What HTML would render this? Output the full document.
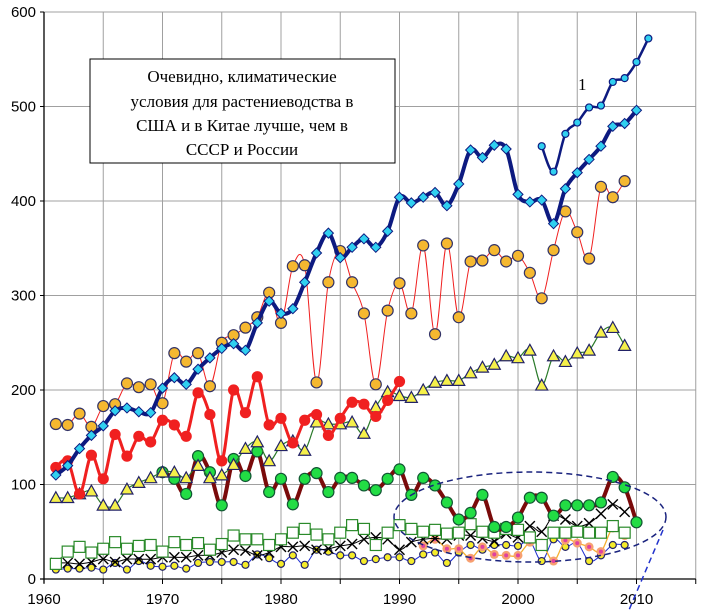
<!DOCTYPE html>
<html><head><meta charset="utf-8">
<style>
html,body{margin:0;padding:0;background:#fff;}
svg{display:block;font-family:"Liberation Sans",sans-serif;}
</style></head>
<body>
<svg id="chart" width="703" height="610" viewBox="0 0 703 610" xmlns="http://www.w3.org/2000/svg">
<g id="grid"></g>
<g id="series"></g>
<g id="axes"></g>
<ellipse cx="530" cy="517" rx="136" ry="45" fill="none" stroke="#1a237e" stroke-width="1.5" stroke-dasharray="6,4"/>
<line x1="663" y1="530" x2="629" y2="610" stroke="#2233cc" stroke-width="1.5" stroke-dasharray="6,4"/>
<g>
<rect x="90" y="59" width="305" height="104" fill="#fff" stroke="#000" stroke-width="1"/>
<text x="242" y="82" text-anchor="middle" font-family="Liberation Serif, serif" font-size="17">Очевидно, климатические</text>
<text x="242" y="107" text-anchor="middle" font-family="Liberation Serif, serif" font-size="17">условия для растениеводства в</text>
<text x="242" y="131" text-anchor="middle" font-family="Liberation Serif, serif" font-size="17">США и в Китае лучше, чем в</text>
<text x="242" y="155" text-anchor="middle" font-family="Liberation Serif, serif" font-size="17">СССР и России</text>
</g>
<text x="578" y="90" font-family="Liberation Serif, serif" font-size="17">1</text>
</svg>
<script>
const xTicks=[1960,1970,1980,1990,2000,2010];
const yTicks=[0,100,200,300,400,500,600];
const usaYears=[1961,1962,1963,1964,1965,1966,1967,1968,1969,1970,1971,1972,1973,1974,1975,1976,1977,1978,1979,1980,1981,1982,1983,1984,1985,1986,1987,1988,1989,1990,1991,1992,1993,1994,1995,1996,1997,1998,1999,2000,2001,2002,2003,2004,2005,2006,2007,2008,2009,2010];
const usaValues=[110,120,138,152,162,178,181,177,176,202,213,206,222,234,244,249,242,271,294,281,286,314,345,366,340,351,360,351,368,404,398,404,409,395,418,454,446,459,455,407,399,401,376,413,430,444,458,479,482,496];
const s1Years=[2002,2003,2004,2005,2006,2007,2008,2009,2010,2011];
const s1Values=[458,431,471,483,499,501,526,530,547,572];
const chinaYears=[1961,1962,1963,1964,1965,1966,1967,1968,1969,1970,1971,1972,1973,1974,1975,1976,1977,1978,1979,1980,1981,1982,1983,1984,1985,1986,1987,1988,1989,1990,1991,1992,1993,1994,1995,1996,1997,1998,1999,2000,2001,2002,2003,2004,2005,2006,2007,2008,2009];
const chinaValues=[164,163,175,161,183,185,207,203,206,186,239,230,239,204,250,258,266,277,303,271,331,332,208,314,347,314,281,206,284,313,281,353,259,355,277,336,337,348,336,342,324,297,348,389,367,339,415,404,421];
const ussrYears=[1961,1962,1963,1964,1965,1966,1967,1968,1969,1970,1971,1972,1973,1974,1975,1976,1977,1978,1979,1980,1981,1982,1983,1984,1985,1986,1987,1988,1989,1990];
const ussrValues=[118,125,90,131,106,153,130,151,145,168,163,151,197,174,125,200,176,214,163,170,144,168,174,152,170,187,185,172,189,209];
const triYears=[1961,1962,1963,1964,1965,1966,1967,1968,1969,1970,1971,1972,1973,1974,1975,1976,1977,1978,1979,1980,1981,1982,1983,1984,1985,1986,1987,1988,1989,1990,1991,1992,1993,1994,1995,1996,1997,1998,1999,2000,2001,2002,2003,2004,2005,2006,2007,2008,2009];
const triValues=[86,86,90,93,78,78,95,102,107,113,113,107,120,107,110,121,138,145,125,141,146,136,166,164,164,166,154,182,198,194,192,200,208,210,210,218,224,227,236,234,242,205,236,230,239,242,261,266,247];
const rusYears=[1970,1971,1972,1973,1974,1975,1976,1977,1978,1979,1980,1981,1982,1983,1984,1985,1986,1987,1988,1989,1990,1991,1992,1993,1994,1995,1996,1997,1998,1999,2000,2001,2002,2003,2004,2005,2006,2007,2008,2009,2010];
const rusValues=[113,106,90,130,113,78,127,109,135,92,106,79,106,112,92,107,107,99,94,106,116,89,107,99,81,63,70,89,55,55,65,86,86,67,78,78,78,81,108,97,60];
const sqYears=triYears;
const sqValues=[16,29,34,28,32,39,32,35,36,29,39,36,38,31,37,46,42,42,36,42,49,53,47,42,49,57,53,36,49,57,53,50,52,48,49,58,50,49,53,52,44,36,49,49,50,49,49,56,49];
const xYears=triYears;
const xValues=[17,17,16,18,21,18,21,21,21,23,23,23,25,25,28,31,30,25,28,34,34,35,31,32,35,37,42,44,42,31,39,42,43,42,46,46,43,40,48,44,56,50,67,63,56,59,69,79,71];
const ycYears=triYears;
const ycValues=[10,11,11,12,10,17,10,19,14,13,14,11,17,18,18,18,15,26,22,16,25,15,31,29,25,25,19,21,23,23,19,26,28,17,28,36,31,36,36,35,40,19,42,34,38,19,25,36,36];
const pkYears=[1992,1993,1994,1995,1996,1997,1998,1999,2000,2001,2002,2003,2004,2005,2006,2007,2008,2009];
const pkValues=[35,42,32,32,22,34,26,25,25,39,38,19,41,38,34,29,54,46];

const NS="http://www.w3.org/2000/svg";
const X0=44, PX=11.85, Y0=579, PY=0.945;
function xs(yr){return X0+(yr-1960)*PX;}
function ys(v){return Y0-v*PY;}
function mk(tag,attrs,parent){const e=document.createElementNS(NS,tag);for(const k in attrs)e.setAttribute(k,attrs[k]);parent.appendChild(e);return e;}
const grid=document.getElementById('grid'), axes=document.getElementById('axes'), ser=document.getElementById('series');
for(let yr=1965;yr<=2015;yr+=5){const l=mk('line',{x1:xs(yr),x2:xs(yr),y1:ys(600),y2:Y0,stroke:'#a0a0a0','stroke-width':1},grid);

}
for(let v=100;v<=600;v+=100){const l=mk('line',{x1:X0,x2:xs(2015),y1:ys(v),y2:ys(v),stroke:'#a0a0a0','stroke-width':1},grid);

}
const ax=mk('line',{x1:X0,x2:X0,y1:ys(600),y2:Y0+4,stroke:'#000','stroke-width':1.3},axes);


const bx=mk('line',{x1:X0-4,x2:xs(2015),y1:Y0,y2:Y0,stroke:'#000','stroke-width':1.3},axes);


yTicks.forEach(v=>{const t=mk('text',{x:X0-8,y:ys(v)+5,'text-anchor':'end','font-size':15},axes);t.textContent=v;


mk('line',{x1:X0-4,x2:X0,y1:ys(v),y2:ys(v),stroke:'#000'},axes);});
for(let yr=1960;yr<=2015;yr+=5){mk('line',{x1:xs(yr),x2:xs(yr),y1:Y0,y2:Y0+5,stroke:'#000'},axes);}
xTicks.forEach(yr=>{const t=mk('text',{x:xs(yr),y:604,'text-anchor':'middle','font-size':15},axes);t.textContent=yr;

});

function smoothPath(pts){let d='M'+pts[0][0]+','+pts[0][1];
for(let i=0;i<pts.length-1;i++){const p0=pts[i-1]||pts[i],p1=pts[i],p2=pts[i+1],p3=pts[i+2]||p2;
const c1=[p1[0]+(p2[0]-p0[0])/6,p1[1]+(p2[1]-p0[1])/6],c2=[p2[0]-(p3[0]-p1[0])/6,p2[1]-(p3[1]-p1[1])/6];
d+=' C'+c1[0]+','+c1[1]+' '+c2[0]+','+c2[1]+' '+p2[0]+','+p2[1];}return d;}
function marker(g,type,x,y,fill,stroke,r){
if(type==='circle')return mk('circle',{cx:x,cy:y,r:r,fill:fill,stroke:stroke,'stroke-width':1.2},g);
if(type==='diamond')return mk('polygon',{points:`${x},${y-r} ${x+r},${y} ${x},${y+r} ${x-r},${y}`,fill:fill,stroke:stroke,'stroke-width':1},g);
if(type==='triangle')return mk('polygon',{points:`${x},${y-r} ${x+r},${y+r*0.8} ${x-r},${y+r*0.8}`,fill:fill,stroke:stroke,'stroke-width':1.2},g);
if(type==='square')return mk('rect',{x:x-r,y:y-r,width:2*r,height:2*r,fill:fill,stroke:stroke,'stroke-width':1.2},g);
if(type==='x'){const p=mk('path',{d:`M${x-r},${y-r}L${x+r},${y+r}M${x+r},${y-r}L${x-r},${y+r}`,stroke:stroke,'stroke-width':1.4,fill:'none'},g);return p;}
if(type==='dotcircle'){const c=mk('circle',{cx:x,cy:y,r:r,fill:fill,stroke:'none'},g);mk('circle',{cx:x,cy:y,r:r*0.45,fill:'#e040a0'},g);return c;}}
function drawSeries(name,years,vals,o){const g=mk('g',{},ser);


const pts=years.map((yr,i)=>[xs(yr),ys(vals[i])]);
mk('path',{d:smoothPath(pts),fill:'none',stroke:o.line,'stroke-width':o.lw,'stroke-linejoin':'round'},g);
pts.forEach(p=>{const m=marker(g,o.type,p[0],p[1],o.fill,o.mstroke,o.r);

});}
drawSeries('series-yellow-circles',ycYears,ycValues,{line:'#1f2fd0',lw:1,type:'circle',fill:'#f5ec2a',mstroke:'#222266',r:3.5});
drawSeries('series-pink-dots',pkYears,pkValues,{line:'#f5b030',lw:1.3,type:'dotcircle',fill:'#f7a070',mstroke:'none',r:4.5});
drawSeries('series-black-x',xYears,xValues,{line:'#000',lw:1,type:'x',fill:'none',mstroke:'#000',r:5});
drawSeries('series-green-squares',sqYears,sqValues,{line:'#2a8a2a',lw:1,type:'square',fill:'#fff',mstroke:'#2a8a2a',r:5.5});
drawSeries('series-russia',rusYears,rusValues,{line:'#7a0a0a',lw:4,type:'circle',fill:'#22dd44',mstroke:'#115533',r:5.5});
drawSeries('series-triangles',triYears,triValues,{line:'#2a7a2a',lw:1.2,type:'triangle',fill:'#f5f04a',mstroke:'#222266',r:6});
drawSeries('series-ussr',ussrYears,ussrValues,{line:'#f02020',lw:3,type:'circle',fill:'#f02020',mstroke:'#f02020',r:5});
drawSeries('series-china',chinaYears,chinaValues,{line:'#f02020',lw:1,type:'circle',fill:'#f5b830',mstroke:'#333366',r:5.5});
drawSeries('series-usa',usaYears,usaValues,{line:'#0d1a80',lw:4,type:'diamond',fill:'#30d0f0',mstroke:'#0d1a80',r:5});
drawSeries('series-1',s1Years,s1Values,{line:'#0d1a80',lw:2.5,type:'circle',fill:'#30d0f0',mstroke:'#0d1a80',r:3.5});
</script>
</body></html>
